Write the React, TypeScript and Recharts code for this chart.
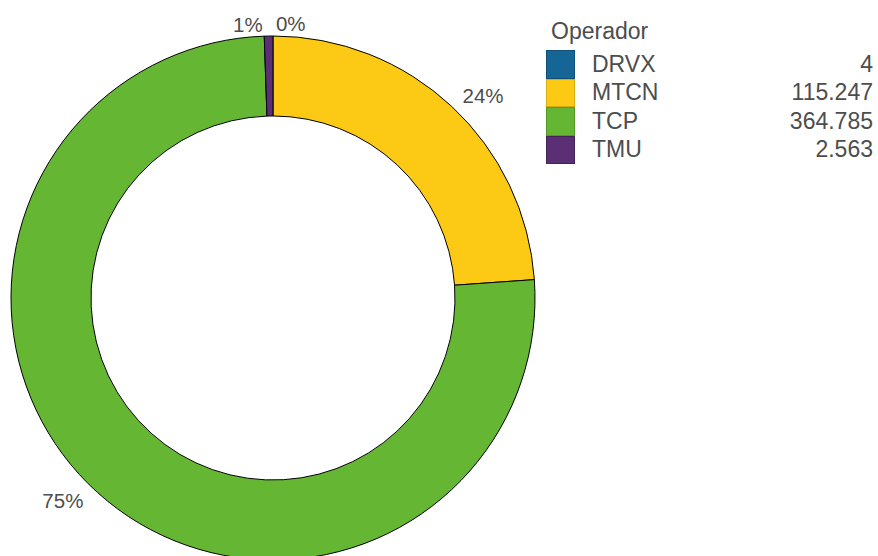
import { PieChart, Pie, Cell, Legend } from "recharts";

// Operadores y valores
const operators = ["DRVX", "MTCN", "TCP", "TMU"];
const values = [4, 115247, 364785, 2563];
const valueLabels = ["4", "115.247", "364.785", "2.563"];
const percentLabels = ["0%", "24%", "75%", "1%"];
const colors = ["#156696", "#FCCA14", "#65B733", "#5A2F73"];
const borders = ["#0f5078", "#d9ad10", "#529a27", "#45225a"];

// ajustes de posición de las etiquetas (grados)
const labelNudge = [3.7, 3, 4, -4.3];

const data = operators.map((name, i) => ({ name, value: values[i] }));

const CX = 273;
const CY = 298;
const RAD = Math.PI / 180;
const FONT = "'Liberation Sans', Arial, sans-serif";

const renderLabel = (props: any) => {
  const { midAngle, index } = props;
  const ang = (midAngle - labelNudge[index]) * RAD;
  const r = index === 0 || index === 3 ? 275 : 292;
  const x = CX + r * Math.cos(ang);
  const y = CY - r * Math.sin(ang);
  return (
    <text
      x={x}
      y={y}
      textAnchor="middle"
      dominantBaseline="central"
      fill="#4d4d4d"
      fontSize={20.5}
      fontFamily={FONT}
    >
      {percentLabels[index]}
    </text>
  );
};

function LegendBox() {
  return (
    <div style={{ fontFamily: FONT, color: "#4d4d4d", width: 327 }}>
      <div style={{ fontSize: 23, marginLeft: 5, height: 38, lineHeight: "38px" }}>Operador</div>
      {operators.map((op, i) => (
        <div key={op} style={{ display: "flex", alignItems: "center", height: 28.5 }}>
          <div
            style={{
              width: 29,
              height: 28.5,
              background: colors[i],
              border: `1px solid ${borders[i]}`,
              boxSizing: "border-box",
            }}
          />
          <span style={{ fontSize: 23, marginLeft: 17, flex: 1 }}>{op}</span>
          <span style={{ fontSize: 23, textAlign: "right" }}>{valueLabels[i]}</span>
        </div>
      ))}
    </div>
  );
}

export default function App() {
  return (
    <div style={{ position: "absolute", left: 0, top: 0, width: 878, height: 556, background: "#fff" }}>
      <PieChart width={878} height={556} margin={{ top: 0, right: 0, bottom: 0, left: 0 }}>
        <Pie
          data={data}
          dataKey="value"
          nameKey="name"
          cx={CX}
          cy={CY}
          innerRadius={182}
          outerRadius={262}
          startAngle={90}
          endAngle={-270}
          stroke="#000"
          strokeWidth={1}
          label={renderLabel}
          labelLine={false}
          isAnimationActive={false}
        >
          {data.map((d, i) => (
            <Cell key={d.name} fill={colors[i]} />
          ))}
        </Pie>
        <Legend
          content={() => <LegendBox />}
          wrapperStyle={{ position: "absolute", left: 546, top: 12, width: 327 }}
        />
      </PieChart>
    </div>
  );
}
